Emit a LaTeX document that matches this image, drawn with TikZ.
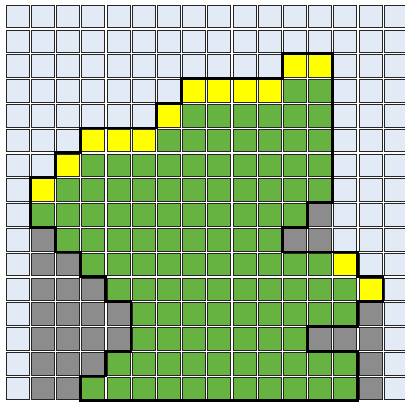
\documentclass[tikz,border=0pt]{standalone}
\definecolor{lightcell}{RGB}{226,234,245}
\definecolor{greencell}{RGB}{102,179,66}
\definecolor{yellowcell}{RGB}{255,255,0}
\definecolor{graycell}{RGB}{140,140,140}
\tikzset{
  cellbox/.style={draw=black!85, line width=0.6pt},
  shadowbox/.style={fill=black!40},
  outline/.style={draw=black, line width=2.8pt, line join=miter}
}
\newcommand{\mycell}[3]{%
  \fill[shadowbox] ([shift={(1.5pt,-1.6pt)}]#1,#2) rectangle ++(23pt,-22.6pt);
  \filldraw[cellbox, fill=#3] ([shift={(1.1pt,-1.1pt)}]#1,#2) rectangle ++(23pt,-22.6pt);
}
\begin{document}
\begin{tikzpicture}
\fill[white] (0,0) rectangle (405pt,-405pt);
\useasboundingbox (0,0) rectangle (405pt,-405pt);
\begin{scope}[shift={(4.9pt,-3.9pt)}, x=25.2pt, y=-24.8pt]
  % light background cells
  \foreach \r in {0,...,15} {
    \foreach \c in {0,...,15} {
      \mycell{\c}{\r}{lightcell}
    }
  }
  % green cells
  \foreach \r/\a/\b in {3/11/12, 4/7/12, 5/6/12, 6/3/12, 7/2/12, 8/1/11, 9/2/10,
                        10/3/12, 11/4/13, 12/5/13, 13/5/11, 14/4/13, 15/3/13} {
    \foreach \c in {\a,...,\b} {
      \mycell{\c}{\r}{greencell}
    }
  }
  % yellow cells
  \foreach \c/\r in {11/2, 12/2, 7/3, 8/3, 9/3, 10/3, 6/4, 3/5, 4/5, 5/5, 2/6, 1/7, 13/10, 14/11} {
    \mycell{\c}{\r}{yellowcell}
  }
  % gray cells
  \foreach \c/\r in {12/8, 1/9, 11/9, 12/9, 1/10, 2/10, 1/11, 2/11, 3/11,
                     1/12, 2/12, 3/12, 4/12, 14/12, 1/13, 2/13, 3/13, 4/13,
                     12/13, 13/13, 14/13, 1/14, 2/14, 3/14, 14/14, 1/15, 2/15, 14/15} {
    \mycell{\c}{\r}{graycell}
  }
  % thick outline of the region
  \draw[outline] (11,2) -- (13,2) -- (13,8) -- (12,8) -- (12,9) -- (11,9) -- (11,10)
    -- (14,10) -- (14,11) -- (15,11) -- (15,12) -- (14,12) -- (14,13) -- (12,13)
    -- (12,14) -- (14,14) -- (14,16) -- (3,16) -- (3,15) -- (4,15) -- (4,14)
    -- (5,14) -- (5,12) -- (4,12) -- (4,11) -- (3,11) -- (3,10) -- (2,10)
    -- (2,9) -- (1,9) -- (1,7) -- (2,7) -- (2,6) -- (3,6) -- (3,5) -- (6,5)
    -- (6,4) -- (7,4) -- (7,3) -- (11,3) -- cycle;
\end{scope}
\end{tikzpicture}
\end{document}
